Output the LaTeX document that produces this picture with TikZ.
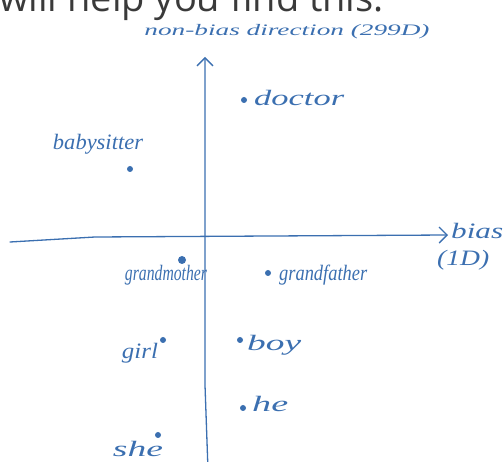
\documentclass[tikz,border=0pt]{standalone}
\usepackage{fontspec}
\setmainfont{Liberation Serif}
\newfontfamily\topfont{Open Sans}
\newfontfamily\handfont{Liberation Serif}
\usetikzlibrary{arrows.meta}
\definecolor{ink}{HTML}{3B6FB0}
\definecolor{topgray}{HTML}{3A3A3A}
\newcommand{\fitw}[2]{\resizebox{#1}{\height}{#2}}
\begin{document}
\begin{tikzpicture}[x=1pt,y=-1pt,
  hand/.style={text=ink,font=\handfont\itshape\fontsize{22}{24}\selectfont,inner sep=0pt},
  dotmark/.style={circle,fill=ink,draw=none,inner sep=0pt,minimum size=6pt},
  axisline/.style={draw=ink,line width=1.3pt,line cap=round,line join=round,
    -{Straight Barb[length=8pt,width=16pt,line width=1.3pt]}}]
\useasboundingbox (0,0) rectangle (504,462);
\clip (0,0) rectangle (504,462);
% cut-off sentence at the top
\node[anchor=base west,text=topgray,font=\topfont\fontsize{38}{44}\selectfont,inner sep=0pt]
  (toptext) at (-1,12) {will help you find this.};
% axes
\coordinate (vb) at (208,470);
\coordinate (vm) at (205,385);
\coordinate (vt) at (205,57);
\coordinate (hl) at (10,242);
\coordinate (hm) at (95,237);
\coordinate (hr) at (448,235);
\draw[axisline] (vb) -- (vm) -- (vt);
\draw[axisline] (hl) -- (hm) -- (hr);
% axis labels
\node[hand,font=\handfont\itshape\fontsize{16}{18}\selectfont] (nonbias) at (287,32) {\fitw{285pt}{non-bias direction (299D)}};
\node[hand,anchor=west] (bias) at (451,231) {\fitw{52pt}{bias}};
\node[hand,anchor=west] (oneD) at (437,260) {\fitw{52pt}{(1D)}};
% points
\node[dotmark] (pdoctor) at (244,100) {};
\node[hand,anchor=west] (ldoctor) at (254,98) {\fitw{90pt}{doctor}};
\node[dotmark] (pbaby) at (130,169) {};
\node[hand] (lbaby) at (98,144) {\fitw{90pt}{babysitter}};
\node[dotmark,minimum size=8pt] (pgm) at (182,260) {};
\node[hand] (lgm) at (166,275) {\fitw{82pt}{grandmother}};
\node[dotmark] (pgf) at (268,273) {};
\node[hand,anchor=west] (lgf) at (279,275) {\fitw{88pt}{grandfather}};
\node[dotmark] (pgirl) at (163,340) {};
\node[hand] (lgirl) at (140,353) {\fitw{36pt}{girl}};
\node[dotmark] (pboy) at (240,340) {};
\node[hand,anchor=west] (lboy) at (247,345) {\fitw{54pt}{boy}};
\node[dotmark] (phe) at (243,408) {};
\node[hand,anchor=west] (lhe) at (252,404) {\fitw{36pt}{he}};
\node[dotmark] (pshe) at (158,435) {};
\node[hand] (lshe) at (138,449) {\fitw{50pt}{she}};
\end{tikzpicture}
\end{document}
